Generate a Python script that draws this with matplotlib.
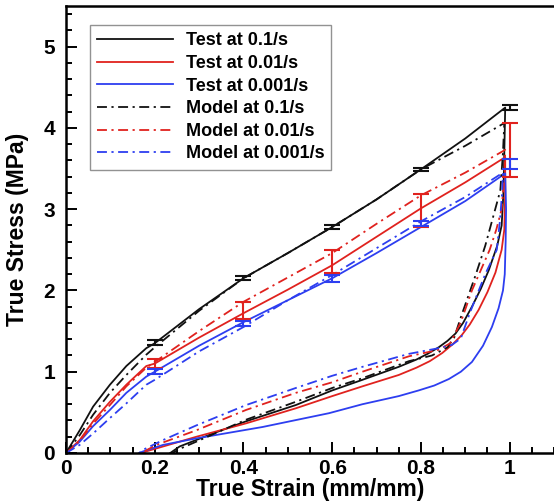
import matplotlib
matplotlib.use("Agg")
import matplotlib.pyplot as plt
from matplotlib.ticker import MultipleLocator, FuncFormatter

plt.rcParams['font.family'] = ['Liberation Sans', 'DejaVu Sans']
plt.rcParams['font.weight'] = 'bold'

# ---- data ----
test_01_x = [0, 0.031, 0.061, 0.099, 0.136, 0.181, 0.2, 0.3, 0.4, 0.5, 0.6, 0.7, 0.8, 0.9, 0.99,
             0.988, 0.986, 0.982, 0.972, 0.953, 0.935, 0.915, 0.895, 0.878, 0.86, 0.84, 0.815,
             0.79, 0.75, 0.668, 0.6, 0.518, 0.406, 0.331, 0.256, 0.235]
test_01_y = [0, 0.28, 0.57, 0.84, 1.07, 1.29, 1.35, 1.77, 2.15, 2.46, 2.78, 3.12, 3.49, 3.87, 4.25,
             3.7, 3.2, 2.8, 2.55, 2.25, 2.02, 1.8, 1.6, 1.47, 1.38, 1.3, 1.22,
             1.15, 1.06, 0.90, 0.77, 0.59, 0.39, 0.24, 0.08, 0]

test_001_x = [0, 0.031, 0.061, 0.099, 0.136, 0.181, 0.2, 0.3, 0.4, 0.5, 0.6, 0.7, 0.8, 0.9, 0.99,
              0.99, 0.988, 0.982, 0.968, 0.95, 0.93, 0.91, 0.892, 0.87, 0.848, 0.82, 0.79, 0.75,
              0.668, 0.6, 0.518, 0.406, 0.294, 0.181, 0.172]
test_001_y = [0, 0.16, 0.39, 0.63, 0.84, 1.07, 1.10, 1.42, 1.72, 2.01, 2.31, 2.66, 3.01, 3.33, 3.64,
              3.2, 2.75, 2.5, 2.22, 1.98, 1.76, 1.58, 1.45, 1.33, 1.23, 1.13, 1.05, 0.96,
              0.82, 0.70, 0.55, 0.365, 0.2, 0.02, 0]

test_0001_x = [0, 0.031, 0.061, 0.099, 0.136, 0.181, 0.2, 0.3, 0.4, 0.5, 0.6, 0.7, 0.8, 0.9, 0.99,
               0.992, 0.991, 0.989, 0.985, 0.975, 0.96, 0.94, 0.915, 0.89, 0.863, 0.83, 0.795,
               0.75, 0.668, 0.593, 0.443, 0.294, 0.219, 0.174, 0.165]
test_0001_y = [0, 0.14, 0.33, 0.53, 0.74, 0.94, 1.0, 1.32, 1.61, 1.88, 2.15, 2.46, 2.78, 3.1, 3.44,
               3.0, 2.6, 2.2, 2.0, 1.78, 1.55, 1.32, 1.12, 1.0, 0.91, 0.83, 0.77,
               0.70, 0.60, 0.49, 0.32, 0.18, 0.10, 0.02, 0]

model_01_x = [0, 0.031, 0.061, 0.099, 0.136, 0.181, 0.2, 0.3, 0.4, 0.5, 0.6, 0.7, 0.8, 0.9, 0.988,
              0.985, 0.979, 0.965, 0.945, 0.924, 0.89, 0.875, 0.86, 0.825, 0.773, 0.668, 0.6, 0.518,
              0.406, 0.294, 0.256, 0.24]
model_01_y = [0, 0.22, 0.47, 0.74, 0.96, 1.21, 1.30, 1.75, 2.15, 2.46, 2.78, 3.12, 3.49, 3.78, 4.06,
              3.7, 3.23, 2.95, 2.55, 2.2, 1.67, 1.42, 1.3, 1.2, 1.13, 0.92, 0.80, 0.63,
              0.41, 0.14, 0.05, 0]

model_001_x = [0, 0.031, 0.061, 0.099, 0.136, 0.181, 0.2, 0.3, 0.4, 0.5, 0.6, 0.7, 0.8, 0.9, 0.99,
               0.988, 0.982, 0.97, 0.955, 0.915, 0.89, 0.866, 0.84, 0.773, 0.668, 0.6, 0.518, 0.406,
               0.294, 0.204, 0.18, 0.175]
model_001_y = [0, 0.15, 0.36, 0.59, 0.82, 1.05, 1.12, 1.50, 1.86, 2.16, 2.46, 2.82, 3.17, 3.45, 3.73,
               3.4, 3.0, 2.75, 2.5, 2.0, 1.61, 1.35, 1.27, 1.19, 1.0, 0.87, 0.74, 0.53,
               0.28, 0.1, 0.03, 0]

model_0001_x = [0, 0.031, 0.061, 0.099, 0.136, 0.181, 0.2, 0.3, 0.4, 0.5, 0.6, 0.7, 0.8, 0.9, 0.985,
                0.983, 0.978, 0.971, 0.945, 0.91, 0.89, 0.87, 0.84, 0.773, 0.668, 0.6, 0.518, 0.406,
                0.294, 0.219, 0.174, 0.165]
model_0001_y = [0, 0.10, 0.24, 0.43, 0.61, 0.84, 0.9, 1.25, 1.55, 1.88, 2.19, 2.52, 2.85, 3.15, 3.45,
                3.2, 2.85, 2.5, 2.2, 1.72, 1.41, 1.33, 1.29, 1.22, 1.06, 0.95, 0.80, 0.59,
                0.34, 0.16, 0.04, 0]

err_x = [0.2, 0.4, 0.6, 0.8, 1.0]
err_01_low = [1.33, 2.13, 2.75, 3.47, 4.22]
err_01_high = [1.39, 2.18, 2.80, 3.51, 4.28]
err_001_low = [1.04, 1.65, 2.22, 2.78, 3.39]
err_001_high = [1.16, 1.86, 2.50, 3.19, 4.06]
err_0001_low = [0.97, 1.56, 2.10, 2.79, 3.49]
err_0001_high = [1.03, 1.63, 2.19, 2.85, 3.62]

labels = ["Test at 0.1/s", "Test at 0.01/s", "Test at 0.001/s",
          "Model at 0.1/s", "Model at 0.01/s", "Model at 0.001/s"]

# ---- styling ----
BLACK = '#111111'
RED = '#e0221e'
BLUE = '#2d3ef0'
DASHDOT = (0, (5.5, 2.5, 1.2, 2.5))

fig = plt.figure(figsize=(5.54, 5.01), dpi=100)
ax = fig.add_axes([66/554, 48/501, 488/554, 447/501])

lw = 1.3
ax.plot(test_01_x, test_01_y, color=BLACK, lw=lw, label=labels[0])
ax.plot(test_001_x, test_001_y, color=RED, lw=lw, label=labels[1])
ax.plot(test_0001_x, test_0001_y, color=BLUE, lw=lw, label=labels[2])
ax.plot(model_01_x, model_01_y, color=BLACK, lw=lw, ls=DASHDOT, label=labels[3])
ax.plot(model_001_x, model_001_y, color=RED, lw=lw, ls=DASHDOT, label=labels[4])
ax.plot(model_0001_x, model_0001_y, color=BLUE, lw=lw, ls=DASHDOT, label=labels[5])

for low, high, c in [(err_01_low, err_01_high, BLACK),
                     (err_001_low, err_001_high, RED),
                     (err_0001_low, err_0001_high, BLUE)]:
    mid = [(a + b) / 2 for a, b in zip(low, high)]
    yerr = [[m - a for m, a in zip(mid, low)], [b - m for m, b in zip(mid, high)]]
    ax.errorbar(err_x, mid, yerr=yerr, fmt='none', ecolor=c, elinewidth=1.5,
                capsize=6, capthick=1.5, zorder=3)

ax.set_xlim(0, 1.1)
ax.set_ylim(0, 5.5)
ax.xaxis.set_major_locator(MultipleLocator(0.2))
ax.xaxis.set_minor_locator(MultipleLocator(0.05))
ax.yaxis.set_major_locator(MultipleLocator(1))
ax.yaxis.set_minor_locator(MultipleLocator(0.2))
ax.xaxis.set_major_formatter(FuncFormatter(lambda v, p: f"{v:g}"))
ax.yaxis.set_major_formatter(FuncFormatter(lambda v, p: f"{v:g}"))
ax.tick_params(which='both', direction='in', width=1.4, top=False, right=False)
ax.tick_params(which='major', length=8, labelsize=15)
ax.tick_params(axis='x', which='major', pad=4)
ax.tick_params(axis='y', which='major', pad=8)
ax.tick_params(which='minor', length=4)
for lab in ax.get_xticklabels() + ax.get_yticklabels():
    lab.set_fontweight('bold')

for s in ['left', 'bottom', 'top']:
    ax.spines[s].set_linewidth(1.8)
ax.spines['right'].set_visible(False)

ax.set_xlabel("True Strain (mm/mm)", fontsize=16.5, fontweight='bold', labelpad=0)
ax.set_ylabel("True Stress (MPa)", fontsize=16.5, fontweight='bold', labelpad=10)

leg = ax.legend(loc='upper left', bbox_to_anchor=(0.049, 0.957), borderaxespad=0,
                fontsize=13, handlelength=4.2, handletextpad=0.7, labelspacing=0.31,
                borderpad=0.4, fancybox=False, frameon=True)
leg.get_frame().set_edgecolor('#777777')
leg.get_frame().set_linewidth(1.0)
for t in leg.get_texts():
    t.set_fontweight('bold')

fig.savefig("out.png", dpi=100)
